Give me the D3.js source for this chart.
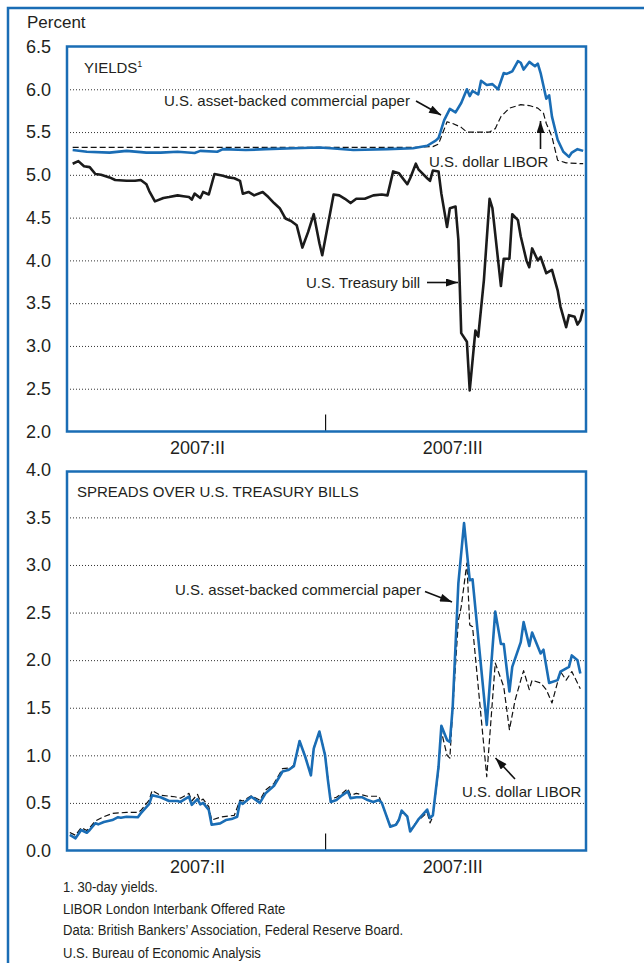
<!DOCTYPE html>
<html>
<head>
<meta charset="utf-8">
<script src="https://cdn.jsdelivr.net/npm/d3@7"></script>
<style>
  html, body { margin: 0; padding: 0; background: #fff; }
  svg { display: block; }
  text { font-family: "Liberation Sans", Arial, Helvetica, sans-serif; fill: #231f20; }
</style>
</head>
<body>
<svg id="chart" width="644" height="963"></svg>
<script>
// ---------------- DATA ----------------
const yTicksTop = [2.0, 2.5, 3.0, 3.5, 4.0, 4.5, 5.0, 5.5, 6.0, 6.5];
const yTicksBottom = [0.0, 0.5, 1.0, 1.5, 2.0, 2.5, 3.0, 3.5, 4.0];
const quarterLabels = ["2007:II", "2007:III"];
const quarterLabelDates = ["05-17", "08-15"];
const quarterBreaks = ["07-01"];

// U.S. Treasury bill yield (percent)
const tbillYield = [
 ["04-03",5.13],["04-05",5.16],["04-07",5.10],["04-09",5.09],["04-11",5.01],["04-13",5.00],["04-16",4.97],["04-18",4.94],
 ["04-22",4.93],["04-25",4.93],["04-27",4.94],["04-29",4.89],["04-30",4.81],["05-02",4.69],["05-05",4.73],["05-07",4.74],
 ["05-10",4.76],["05-12",4.75],["05-14",4.74],["05-15",4.71],["05-16",4.78],["05-18",4.73],["05-19",4.80],["05-21",4.77],
 ["05-23",5.01],["05-26",4.99],["05-28",4.97],["05-30",4.96],["06-01",4.93],["06-02",4.78],["06-04",4.80],["06-06",4.76],
 ["06-09",4.80],["06-11",4.74],["06-13",4.67],["06-15",4.61],["06-17",4.49],["06-19",4.46],["06-21",4.41],["06-23",4.15],
 ["06-25",4.33],["06-27",4.54],["06-29",4.20],["06-30",4.06],["07-04",4.77],["07-06",4.76],["07-08",4.72],["07-10",4.67],
 ["07-12",4.72],["07-15",4.72],["07-18",4.76],["07-21",4.77],["07-23",4.76],["07-25",5.04],["07-27",5.02],["07-30",4.89],
 ["07-31",4.96],["08-02",5.13],["08-03",5.06],["08-06",4.96],["08-07",4.93],["08-08",5.05],["08-10",5.04],["08-11",4.78],
 ["08-13",4.39],["08-14",4.61],["08-16",4.63],["08-17",4.24],["08-18",3.15],["08-20",3.05],["08-21",2.48],["08-23",3.18],
 ["08-24",3.11],["08-26",3.77],["08-28",4.72],["08-29",4.61],["09-01",3.70],["09-02",4.02],["09-04",4.02],["09-05",4.54],
 ["09-07",4.47],["09-08",4.28],["09-10",4.00],["09-11",3.92],["09-12",4.14],["09-14",4.00],["09-15",4.04],["09-17",3.85],
 ["09-19",3.89],["09-21",3.65],["09-22",3.46],["09-24",3.22],["09-25",3.36],["09-27",3.34],["09-28",3.25],["09-29",3.30],
 ["09-30",3.43]
];

// U.S. asset-backed commercial paper yield
const abcpYield = [
 ["04-03",5.29],["04-08",5.27],["04-16",5.26],["04-22",5.28],["04-29",5.26],["05-04",5.26],["05-10",5.27],["05-16",5.255],
 ["05-18",5.28],["05-24",5.27],["05-26",5.30],["06-03",5.29],["06-10",5.30],["06-20",5.31],["06-29",5.32],["07-03",5.31],
 ["07-11",5.29],["07-23",5.30],["08-01",5.31],["08-06",5.34],["08-09",5.40],["08-10",5.43],["08-12",5.64],["08-14",5.77],
 ["08-16",5.73],["08-18",5.84],["08-20",6.00],["08-21",5.92],["08-22",5.98],["08-24",5.94],["08-25",6.10],["08-27",6.05],
 ["08-29",6.06],["08-31",6.00],["09-02",6.19],["09-03",6.18],["09-05",6.21],["09-07",6.33],["09-08",6.31],["09-09",6.23],
 ["09-11",6.32],["09-13",6.27],["09-14",6.30],["09-15",6.19],["09-17",5.89],["09-18",5.93],["09-19",5.68],["09-21",5.41],
 ["09-23",5.27],["09-25",5.21],["09-26",5.26],["09-28",5.30],["09-30",5.28]
];

// U.S. dollar LIBOR yield
const liborYield = [
 ["04-03",5.32],["05-15",5.32],["06-29",5.32],["07-31",5.32],["08-08",5.33],["08-10",5.36],["08-13",5.62],["08-15",5.60],
 ["08-18",5.555],["08-20",5.50],["08-24",5.50],["08-28",5.50],["08-30",5.54],["09-01",5.68],["09-04",5.78],["09-08",5.82],
 ["09-11",5.81],["09-14",5.78],["09-16",5.72],["09-17",5.60],["09-19",5.445],["09-21",5.17],["09-24",5.14],["09-30",5.13]
];

// Spread of asset-backed commercial paper over Treasury bills
const abcpSpread = [
 ["04-02",0.163],["04-04",0.128],["04-06",0.215],["04-08",0.187],["04-09",0.215],["04-11",0.286],["04-12",0.275],["04-14",0.30],
 ["04-17",0.32],["04-19",0.35],["04-20",0.345],["04-22",0.355],["04-26",0.35],["04-27",0.39],["04-30",0.49],["05-01",0.58],
 ["05-04",0.56],["05-07",0.52],["05-10",0.52],["05-11",0.51],["05-14",0.565],["05-15",0.48],["05-17",0.54],["05-18",0.485],
 ["05-19",0.50],["05-21",0.425],["05-22",0.27],["05-25",0.285],["05-27",0.32],["05-29",0.33],["05-31",0.355],["06-01",0.51],
 ["06-02",0.49],["06-05",0.565],["06-08",0.50],["06-10",0.60],["06-13",0.68],["06-16",0.83],["06-18",0.845],["06-20",0.885],
 ["06-22",1.15],["06-24",0.985],["06-26",0.79],["06-27",1.07],["06-29",1.25],["07-01",1.00],["07-02",0.74],["07-03",0.51],
 ["07-05",0.53],["07-07",0.58],["07-09",0.62],["07-10",0.55],["07-12",0.56],["07-14",0.56],["07-16",0.53],["07-18",0.51],
 ["07-20",0.53],["07-21",0.50],["07-24",0.25],["07-26",0.27],["07-27",0.32],["07-28",0.42],["07-30",0.355],["07-31",0.20],
 ["08-02",0.285],["08-03",0.33],["08-06",0.43],["08-07",0.34],["08-08",0.37],["08-10",0.88],["08-11",1.31],["08-13",1.16],
 ["08-14",1.14],["08-15",1.51],["08-17",2.81],["08-19",3.44],["08-21",2.84],["08-22",2.85],["08-27",1.32],["08-30",2.51],
 ["09-01",2.17],["09-02",2.17],["09-04",1.67],["09-05",1.93],["09-08",2.19],["09-09",2.40],["09-11",2.15],["09-12",2.29],
 ["09-15",2.07],["09-16",2.11],["09-18",1.76],["09-21",1.79],["09-22",1.88],["09-25",1.93],["09-26",2.05],["09-28",2.00],
 ["09-29",1.86]
];

// Spread of U.S. dollar LIBOR over Treasury bills
const liborSpread = [
 ["04-02",0.19],["04-04",0.16],["04-06",0.24],["04-08",0.21],["04-09",0.24],["04-11",0.31],["04-14",0.355],["04-17",0.39],
 ["04-22",0.40],["04-26",0.40],["04-27",0.42],["04-30",0.53],["05-01",0.63],["05-04",0.58],["05-09",0.565],["05-11",0.55],
 ["05-14",0.60],["05-15",0.52],["05-17",0.59],["05-18",0.52],["05-19",0.54],["05-21",0.46],["05-22",0.32],["05-25",0.35],
 ["05-30",0.37],["06-01",0.53],["06-02",0.52],["06-05",0.575],["06-08",0.53],["06-10",0.635],["06-13",0.705],["06-16",0.86],
 ["06-19",0.87],["06-20",0.90],["06-22",1.15],["06-24",0.99],["06-26",0.80],["06-27",1.08],["06-29",1.25],["07-01",1.01],
 ["07-02",0.76],["07-03",0.54],["07-05",0.56],["07-07",0.60],["07-09",0.65],["07-10",0.58],["07-12",0.60],["07-16",0.57],
 ["07-20",0.57],["07-24",0.26],["07-26",0.28],["07-27",0.33],["07-28",0.42],["07-30",0.36],["07-31",0.21],["08-02",0.29],
 ["08-03",0.32],["08-06",0.40],["08-07",0.29],["08-08",0.355],["08-10",0.85],["08-11",1.25],["08-13",1.00],["08-14",0.97],
 ["08-15",1.48],["08-17",2.42],["08-18",2.56],["08-20",3.02],["08-21",2.37],["08-22",2.35],["08-27",0.775],["08-30",1.97],
 ["09-02",1.72],["09-04",1.27],["09-06",1.58],["09-08",1.79],["09-09",1.89],["09-11",1.69],["09-12",1.79],["09-15",1.76],
 ["09-17",1.69],["09-19",1.55],["09-22",1.88],["09-24",1.79],["09-26",1.88],["09-29",1.70]
];

const footnotes = [
  "1. 30-day yields.",
  "LIBOR London Interbank Offered Rate",
  "Data: British Bankers\u2019 Association, Federal Reserve Board.",
  "U.S. Bureau of Economic Analysis"
];

// ---------------- DRAWING ----------------
const BLUE = "#1a6db5";
const svg = d3.select("#chart");
const parse = d3.timeParse("%Y-%m-%d");
const toDate = s => parse("2007-" + s);

const left = 67, right = 586;
const x = d3.scaleTime()
  .domain([new Date(2007, 3, 1), new Date(2007, 9, 1)])
  .range([left, right]);

// outer frame
svg.append("rect").attr("x", 8).attr("y", 8).attr("width", 660).attr("height", 980)
  .attr("fill", "none").attr("stroke", BLUE).attr("stroke-width", 2.5);

svg.append("text").attr("x", 27).attr("y", 28).attr("font-size", 17).text("Percent");

// arrow marker
const defs = svg.append("defs");
defs.append("marker").attr("id", "arrow")
  .attr("viewBox", "0 0 12 8").attr("refX", 12).attr("refY", 4)
  .attr("markerWidth", 13).attr("markerHeight", 8)
  .attr("markerUnits", "userSpaceOnUse").attr("orient", "auto")
  .append("path").attr("d", "M0,0 L12,4 L0,8 z").attr("fill", "#111");

function panel(cfg) {
  const y = d3.scaleLinear().domain(cfg.domain).range([cfg.bottom, cfg.top]);
  const g = svg.append("g");
  const clipId = "clip" + cfg.id;
  defs.append("clipPath").attr("id", clipId).append("rect")
    .attr("x", left).attr("y", cfg.frameTop).attr("width", right - left).attr("height", cfg.bottom - cfg.frameTop);

  // gridlines
  const gridVals = cfg.ticks.filter(v => v > cfg.domain[0] && v < cfg.domain[1]);
  const grid = g.append("g").attr("transform", `translate(${left},0)`)
    .call(d3.axisLeft(y).tickValues(gridVals).tickSize(-(right - left)).tickFormat(""));
  grid.select(".domain").remove();
  grid.selectAll("line").attr("stroke", "#333").attr("stroke-width", 1).attr("stroke-dasharray", "1,2");

  // y tick labels
  const ax = g.append("g").attr("transform", `translate(51,0)`)
    .call(d3.axisLeft(y).tickValues(cfg.ticks).tickSize(0).tickPadding(0).tickFormat(d3.format(".1f")));
  ax.select(".domain").remove();
  ax.selectAll("text").attr("font-size", 18).attr("fill", "#231f20")
    .attr("font-family", "Liberation Sans, Arial, sans-serif");

  // quarter break tick
  const xt = g.append("g").attr("transform", `translate(0,${cfg.bottom})`)
    .call(d3.axisBottom(x).tickValues(quarterBreaks.map(toDate)).tickSize(-17).tickFormat(""));
  xt.select(".domain").remove();
  xt.selectAll("line").attr("stroke", "#111").attr("stroke-width", 1.2);

  // quarter labels
  g.selectAll(".ql").data(quarterLabels).enter().append("text")
    .attr("x", (d, i) => x(toDate(quarterLabelDates[i])))
    .attr("y", cfg.bottom + 22).attr("text-anchor", "middle").attr("font-size", 18).text(d => d);

  const lines = g.append("g").attr("clip-path", `url(#${clipId})`);
  const lineGen = d3.line().x(d => x(toDate(d[0]))).y(d => y(d[1])).curve(d3.curveLinear);
  cfg.series.forEach(s => {
    lines.append("path").datum(s.data).attr("d", lineGen)
      .attr("fill", "none").attr("stroke", s.color).attr("stroke-width", s.width)
      .attr("stroke-dasharray", s.dash || null).attr("stroke-linejoin", "round");
  });

  // frame
  g.append("rect").attr("x", left).attr("y", cfg.frameTop).attr("width", right - left)
    .attr("height", cfg.bottom - cfg.frameTop).attr("fill", "none")
    .attr("stroke", BLUE).attr("stroke-width", 2.5);

  // annotations
  cfg.labels.forEach(l => {
    const t = g.append("text").attr("x", l.x).attr("y", l.y).attr("font-size", 15).text(l.text);
    if (l.sup) t.append("tspan").attr("font-size", 9).attr("dy", -6).text(l.sup);
  });
  cfg.arrows.forEach(a => {
    g.append("line").attr("x1", a[0]).attr("y1", a[1]).attr("x2", a[2]).attr("y2", a[3])
      .attr("stroke", "#111").attr("stroke-width", 1.6).attr("marker-end", "url(#arrow)");
  });
}

panel({
  id: "top", domain: [2, 6.5], top: 46.5, bottom: 431.5, frameTop: 46.5, ticks: yTicksTop,
  series: [
    { data: liborYield, color: "#111", width: 1.2, dash: "6,3" },
    { data: tbillYield, color: "#1b1b1b", width: 2.6 },
    { data: abcpYield, color: BLUE, width: 2.6 }
  ],
  labels: [
    { x: 84, y: 73, text: "YIELDS", sup: "1" },
    { x: 164, y: 106, text: "U.S. asset-backed commercial paper" },
    { x: 429, y: 167, text: "U.S. dollar LIBOR" },
    { x: 306, y: 288, text: "U.S. Treasury bill" }
  ],
  arrows: [[416, 101, 441, 115], [540.5, 149, 540.5, 121], [427, 282.5, 458, 282.5]]
});

panel({
  id: "bot", domain: [0, 4], top: 469.8, bottom: 850.5, frameTop: 471.5, ticks: yTicksBottom,
  series: [
    { data: liborSpread, color: "#111", width: 1.2, dash: "6,3" },
    { data: abcpSpread, color: BLUE, width: 2.6 }
  ],
  labels: [
    { x: 77, y: 497, text: "SPREADS OVER U.S. TREASURY BILLS" },
    { x: 175, y: 595, text: "U.S. asset-backed commercial paper" },
    { x: 462, y: 797, text: "U.S. dollar LIBOR" }
  ],
  arrows: [[425, 591.5, 452, 602], [515, 779, 495.5, 758]]
});

// footnotes (condensed look via horizontal scaling)
const fy = [892, 914, 935, 958];
const fg = svg.append("g").attr("transform", "translate(63,0) scale(0.9,1)");
fg.selectAll(".fn").data(footnotes).enter().append("text").attr("class", "fn")
  .attr("x", 0).attr("y", (d, i) => fy[i]).attr("font-size", 14.5).text(d => d);
</script>
</body>
</html>
